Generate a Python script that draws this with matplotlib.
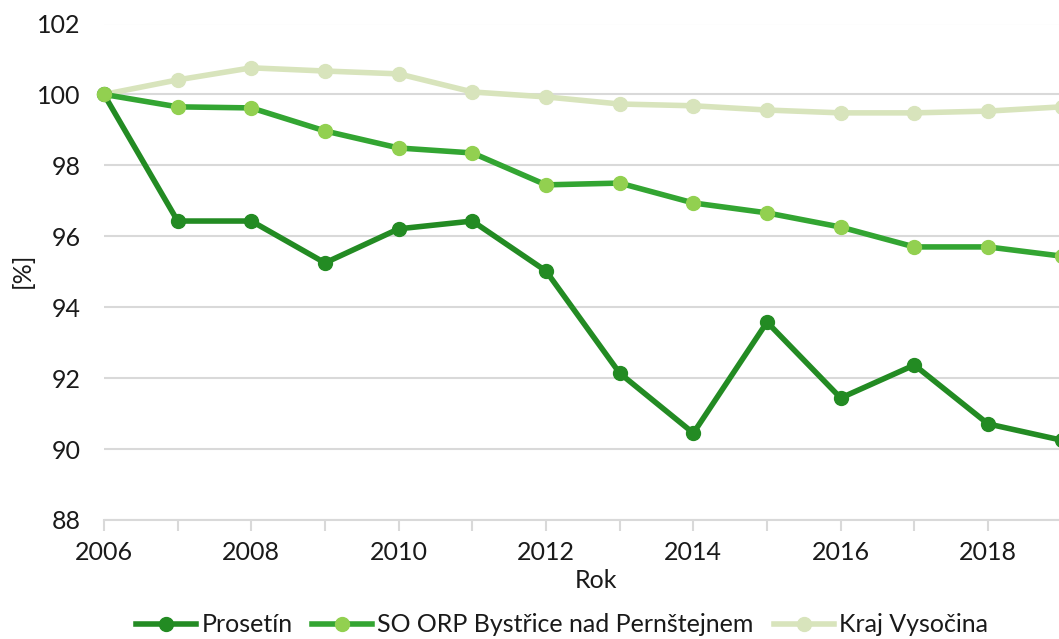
import matplotlib.pyplot as plt
from matplotlib.ticker import MultipleLocator

# data
years = list(range(2006, 2020))
prosetin = [100.0, 96.43, 96.43, 95.25, 96.21, 96.43, 95.02, 92.14, 90.45, 93.58, 91.44, 92.37, 90.71, 90.25]
orp = [100.0, 99.65, 99.62, 98.97, 98.49, 98.35, 97.45, 97.50, 96.94, 96.66, 96.26, 95.70, 95.70, 95.44]
kraj = [100.0, 100.41, 100.75, 100.66, 100.58, 100.07, 99.93, 99.73, 99.68, 99.56, 99.48, 99.48, 99.53, 99.65]

labels = ['Prosetín', 'SO ORP Bystřice nad Pernštejnem', 'Kraj Vysočina']

plt.rcParams['font.family'] = ['Lato', 'DejaVu Sans']
FS = 18

W, H = 1059, 639
fig = plt.figure(figsize=(W / 100, H / 100), dpi=100)
# axes in pixel coordinates: x 2006 -> 104, 2019 -> 1061.7; y 88 -> 520, 102 -> 23.5
ax = fig.add_axes([104 / W, 1 - 520 / H, (1061.7 - 104) / W, (520 - 23.5) / H])
ax.set_xlim(2006, 2019)
ax.set_ylim(88, 102)

ax.plot(years, prosetin, color='#238B23', lw=4, marker='o', ms=10,
        mfc='#238B23', mec='#238B23', label=labels[0], clip_on=False, zorder=3)
ax.plot(years, orp, color='#33A532', lw=4, marker='o', ms=10,
        mfc='#92D050', mec='#92D050', label=labels[1], clip_on=False, zorder=3)
ax.plot(years, kraj, color='#D8E4BC', lw=4, marker='o', ms=10,
        mfc='#D8E4BC', mec='#D8E4BC', label=labels[2], clip_on=False, zorder=2)

ax.yaxis.set_major_locator(MultipleLocator(2))
ax.xaxis.set_major_locator(MultipleLocator(2))
ax.xaxis.set_minor_locator(MultipleLocator(1))
ax.grid(axis='y', color='#D9D9D9', lw=1.5)
ax.set_axisbelow(True)

for s in ['top', 'right', 'left']:
    ax.spines[s].set_visible(False)
ax.spines['bottom'].set_color('#D9D9D9')
ax.spines['bottom'].set_linewidth(1.5)

ax.tick_params(axis='y', length=0, labelsize=FS, pad=17, colors='#1a1a1a')
ax.tick_params(axis='x', which='both', direction='out', length=8, width=1.5,
               color='#D9D9D9', labelsize=FS, labelcolor='#1a1a1a', pad=7)
ax.tick_params(axis='x', which='minor', labelbottom=False)

fig.text(596 / W, 1 - 581 / H, 'Rok', ha='center', va='center', fontsize=FS, color='#1a1a1a')
fig.text(22 / W, 1 - 270 / H, '[%]', ha='center', va='center', rotation=90, fontsize=FS, color='#1a1a1a')

fig.legend(loc='center', bbox_to_anchor=(562 / W, 1 - 625 / H), ncol=3, frameon=False,
           fontsize=FS, handlelength=2.4, handletextpad=0.2, columnspacing=0.8,
           labelcolor='#1a1a1a')

fig.savefig('out.png', dpi=100)
